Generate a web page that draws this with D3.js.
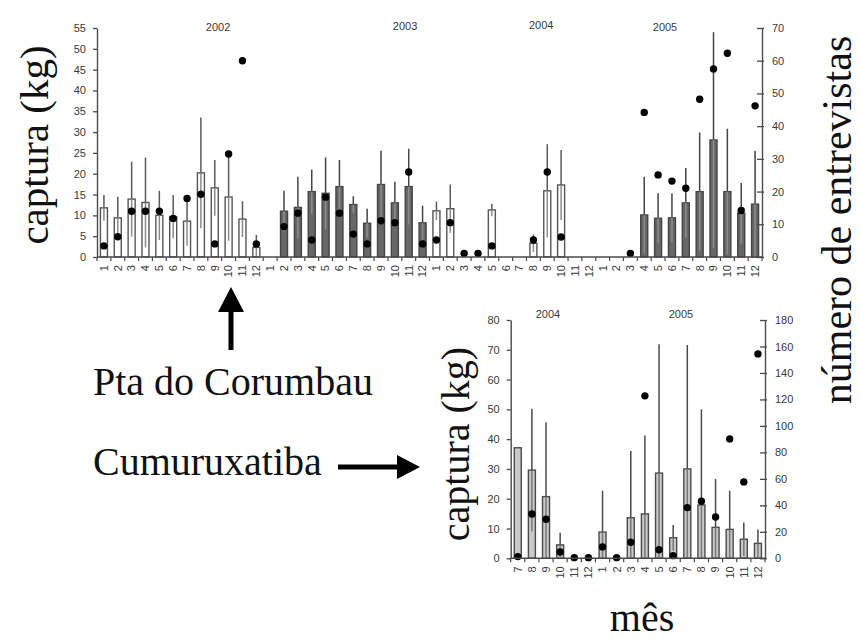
<!DOCTYPE html>
<html>
<head>
<meta charset="utf-8">
<script src="https://cdn.jsdelivr.net/npm/d3@7"></script>
<style>
  body { margin: 0; background: #fff; }
  svg { display: block; }
</style>
</head>
<body>
<svg id="fig" width="860" height="641"></svg>
<script>
// ---------- Pta do Corumbau: monthly catch 2002-2005 ----------
const corumbauMonths = [
  "1","2","3","4","5","6","7","8","9","10","11","12",
  "1","2","3","4","5","6","7","8","9","10","11","12",
  "1","2","3","4","5","6","7","8","9","10","11","12",
  "1","2","3","4","5","6","7","8","9","10","11","12"
];
const corumbauYears = ["2002", "2003", "2004", "2005"];
// mean catch per trip (kg); null = no catch recorded
const corumbauCatch = [
  11.8, 9.4, 13.9, 13.1, 10.0, 9.7, 8.6, 20.2, 16.6, 14.4, 9.1, 2.3,
  null, 11.0, 11.9, 15.7, 15.3, 16.9, 12.6, 8.1, 17.4, 13.0, 16.9, 8.2,
  11.1, 11.6, null, null, 11.3, null, null, 3.3, 15.9, 17.3, null, null,
  null, null, null, 10.1, 9.3, 9.4, 13.0, 15.7, 28.1, 15.7, 10.5, 12.7
];
// standard deviation of the catch (kg)
const corumbauSd = [
  3.1, 5.1, 9.0, 10.8, 5.9, 5.2, 5.9, 13.3, 6.7, 10.5, 4.3, 3.0,
  null, 4.9, 7.4, 5.3, 8.6, 6.4, 2.0, 3.5, 8.1, 5.1, 9.1, 4.1,
  2.2, 5.8, null, null, 1.5, null, null, 2.1, 11.2, 8.4, null, null,
  null, null, null, 9.2, 6.0, 5.9, 8.4, 14.2, 25.9, 15.1, 7.3, 12.8
];
// number of interviews (right axis)
const corumbauInterviews = [
  3.4, 6.2, 14.0, 14.0, 14.0, 11.8, 17.9, 19.2, 4.0, 31.5, 60.0, 4.0,
  null, 9.3, 13.4, 5.2, 18.3, 13.4, 7.0, 4.0, 11.1, 10.5, 26.0, 4.0,
  5.2, 10.5, 1.1, 1.1, 3.4, null, null, 5.2, 26.0, 6.1, null, null,
  null, null, 1.1, 44.2, 25.1, 23.2, 21.0, 48.2, 57.5, 62.3, 14.2, 46.2
];
const corumbauLeftTicks = [0, 5, 10, 15, 20, 25, 30, 35, 40, 45, 50, 55];
const corumbauRightTicks = [0, 10, 20, 30, 40, 50, 60, 70];

// ---------- Cumuruxatiba: monthly catch Jul 2004 - Dec 2005 ----------
const cumuruxMonths = ["7","8","9","10","11","12","1","2","3","4","5","6","7","8","9","10","11","12"];
const cumuruxYears = ["2004", "2005"];
const cumuruxCatch = [37.1, 29.6, 20.7, 4.5, null, null, 8.8, null, 13.6, 14.9, 28.6, 6.9, 30.0, 17.9, 10.4, 9.7, 6.4, 5.0];
const cumuruxSd = [0, 20.6, 25.0, 4.1, null, null, 13.9, null, 22.4, 26.3, 43.3, 4.3, 41.6, 32.1, 16.2, 13.0, 5.6, 4.7];
const cumuruxInterviews = [1.3, 33.5, 29.5, 4.8, 0.5, 0.5, 8.6, 0.5, 12.1, 122.7, 6.5, 2.0, 38.3, 43.1, 31.2, 90.2, 57.7, 154.4];
const cumuruxLeftTicks = [0, 10, 20, 30, 40, 50, 60, 70, 80];
const cumuruxRightTicks = [0, 20, 40, 60, 80, 100, 120, 140, 160, 180];

const svg = d3.select("#fig");
const SANS = "'Liberation Sans', Arial, sans-serif";
const SERIF = "'Liberation Serif', 'Times New Roman', serif";
const AXIS = "#4a4a4a";
const TEXT = "#3a3a3a";

// Bar style per year block: open (white) or filled
function barStyle(kind) {
  if (kind === "open") return { fill: "#ffffff", stroke: "#555", whisker: "#5a5a5a", inner: "#8a8a8a" };
  if (kind === "dark") return { fill: "#676767", stroke: "#444", whisker: "#444", inner: "#8c8c8c" };
  return { fill: "#c9c9c9", stroke: "#4a4a4a", whisker: "#4a4a4a", inner: "#777" };
}

function drawPanel(cfg) {
  const g = svg.append("g");
  const n = cfg.labels.length;
  const x = d3.scaleBand().domain(d3.range(n)).range([cfg.x0, cfg.x1]).paddingInner(0).paddingOuter(0);
  const yL = d3.scaleLinear().domain([0, cfg.leftMax]).range([cfg.yBase, cfg.yTop]);
  const yR = d3.scaleLinear().domain([0, cfg.rightMax]).range([cfg.yBase, cfg.yTop]);
  const bw = x.bandwidth();
  const cx = i => x(i) + bw / 2;
  const barW = 7;

  // bars
  cfg.catchValues.forEach((v, i) => {
    if (v == null || v <= 0) return;
    const st = barStyle(cfg.kindOf(i));
    g.append("rect")
      .attr("x", cx(i) - barW / 2).attr("width", barW)
      .attr("y", yL(v)).attr("height", yL(0) - yL(v))
      .attr("fill", st.fill).attr("stroke", st.stroke).attr("stroke-width", 1.4);
  });

  // error bars: upper part above the bar, lower part inside it
  cfg.catchValues.forEach((v, i) => {
    const sd = cfg.sdValues[i];
    if (v == null || sd == null || sd <= 0) return;
    const st = barStyle(cfg.kindOf(i));
    g.append("line")
      .attr("x1", cx(i)).attr("x2", cx(i))
      .attr("y1", yL(v)).attr("y2", yL(v + sd))
      .attr("stroke", st.whisker).attr("stroke-width", 1.5);
    g.append("line")
      .attr("x1", cx(i)).attr("x2", cx(i))
      .attr("y1", yL(Math.max(0, v - sd))).attr("y2", yL(v))
      .attr("stroke", st.inner).attr("stroke-width", 1.5);
  });

  // interview counts
  cfg.dotValues.forEach((v, i) => {
    if (v == null) return;
    g.append("circle").attr("cx", cx(i)).attr("cy", yR(v)).attr("r", 3.7).attr("fill", "#000");
  });

  // left axis
  const la = g.append("g").attr("transform", `translate(${cfg.x0},0)`)
    .call(d3.axisLeft(yL).tickValues(cfg.leftTicks).tickSize(4).tickSizeOuter(0).tickPadding(7));
  // right axis (ticks cross the line)
  const ra = g.append("g").attr("transform", `translate(${cfg.x1},0)`)
    .call(d3.axisRight(yR).tickValues(cfg.rightTicks).tickSize(2).tickSizeOuter(0).tickPadding(8));
  ra.selectAll(".tick line").attr("x1", -5);
  [la, ra].forEach(a => {
    a.select(".domain").attr("stroke", AXIS).attr("stroke-width", 1.4);
    a.selectAll(".tick line").attr("stroke", AXIS).attr("stroke-width", 1.3);
    a.selectAll(".tick text").attr("fill", TEXT).style("font-family", SANS).style("font-size", "11px");
  });

  // category axis with ticks between months
  g.append("line").attr("x1", cfg.x0).attr("x2", cfg.x1).attr("y1", cfg.yBase).attr("y2", cfg.yBase)
    .attr("stroke", AXIS).attr("stroke-width", 1.4);
  d3.range(n + 1).forEach(k => {
    const bx = cfg.x0 + k * x.step();
    g.append("line").attr("x1", bx).attr("x2", bx).attr("y1", cfg.yBase).attr("y2", cfg.yBase + 4)
      .attr("stroke", AXIS).attr("stroke-width", 1.2);
  });
  cfg.labels.forEach((lab, i) => {
    g.append("text")
      .attr("transform", `translate(${cx(i)},${cfg.yBase + 8}) rotate(-90)`)
      .attr("text-anchor", "end").attr("dy", "0.35em")
      .attr("fill", TEXT).style("font-family", SANS).style("font-size", "11px")
      .text(lab);
  });

  // year labels
  cfg.years.forEach((yr, k) => {
    const pos = cfg.yearPos[k];
    g.append("text")
      .attr("x", cfg.x0 + pos[0] * x.step()).attr("y", pos[1])
      .attr("text-anchor", "middle").attr("fill", TEXT)
      .style("font-family", SANS).style("font-size", "11px")
      .text(yr);
  });
  return { x, yL, yR };
}

// Pta do Corumbau panel
drawPanel({
  x0: 97, x1: 762, yTop: 28, yBase: 257,
  leftMax: 55, rightMax: 70,
  leftTicks: corumbauLeftTicks, rightTicks: corumbauRightTicks,
  labels: corumbauMonths, catchValues: corumbauCatch, sdValues: corumbauSd, dotValues: corumbauInterviews,
  kindOf: i => (Math.floor(i / 12) % 2 === 0 ? "open" : "dark"),
  years: corumbauYears,
  yearPos: [[8.74, 31], [22.24, 30], [32.06, 29], [41.0, 31]]
});

// Cumuruxatiba panel
drawPanel({
  x0: 510.7, x1: 765, yTop: 320, yBase: 558.3,
  leftMax: 80, rightMax: 180,
  leftTicks: cumuruxLeftTicks, rightTicks: cumuruxRightTicks,
  labels: cumuruxMonths, catchValues: cumuruxCatch, sdValues: cumuruxSd, dotValues: cumuruxInterviews,
  kindOf: () => "light",
  years: cumuruxYears,
  yearPos: [[2.64, 318], [12.05, 318]]
});

// axis titles
function vTitle(txt, bx, cy, size) {
  svg.append("text")
    .attr("transform", `translate(${bx},${cy}) rotate(-90)`)
    .attr("text-anchor", "middle")
    .attr("fill", "#111").style("font-family", SERIF).style("font-size", size + "px")
    .text(txt);
}
vTitle("captura (kg)", 48, 145, 41);
vTitle("captura (kg)", 469, 444, 40);
vTitle("número de entrevistas", 851, 220, 42);

svg.append("text").attr("x", 642).attr("y", 631).attr("text-anchor", "middle")
  .attr("fill", "#111").style("font-family", SERIF).style("font-size", "40px").text("mês");

// site labels and arrows
svg.append("text").attr("x", 93).attr("y", 395)
  .attr("fill", "#111").style("font-family", SERIF).style("font-size", "40px").text("Pta do Corumbau");
svg.append("text").attr("x", 93).attr("y", 475)
  .attr("fill", "#111").style("font-family", SERIF).style("font-size", "40px").text("Cumuruxatiba");

svg.append("path")
  .attr("d", "M228.5,350 L228.5,312 L218,312 L231,287 L244,312 L233.5,312 L233.5,350 Z")
  .attr("fill", "#000");
svg.append("path")
  .attr("d", "M338,464.5 L397,464.5 L397,455 L420,467 L397,479 L397,469.5 L338,469.5 Z")
  .attr("fill", "#000");
</script>
</body>
</html>
